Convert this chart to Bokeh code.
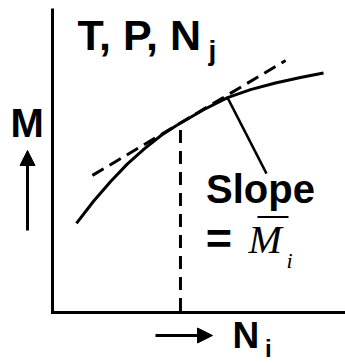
from bokeh.plotting import figure
from bokeh.models import Range1d, Arrow, NormalHead
from bokeh.core.properties import value
from bokeh.embed import file_html
from bokeh.resources import INLINE

# ---- data (diagram values) ----
axis_n = [0.0, 0.0, 10.3]
axis_m = [10.0, 0.0, 0.0]
curve_n = [0.84, 1.44, 2.04, 2.63, 3.23, 3.82, 4.42, 5.30, 6.14, 6.95, 7.82, 8.70, 9.51]
curve_m = [2.93, 3.66, 4.31, 4.89, 5.39, 5.83, 6.19, 6.67, 7.07, 7.33, 7.55, 7.73, 7.88]
tangent_n = [1.40, 8.18]
tangent_m = [4.51, 8.29]
point_n = [4.49, 4.49]
point_m = [0.05, 6.19]
leader_n = [6.14, 7.51]
leader_m = [7.07, 4.57]
bar_n = [7.19, 8.28]
bar_m = [3.14, 3.14]

PX_PER_M = 30.4  # vertical data units -> pixels (363 px over the y range)

p = figure(width=345, height=363, output_backend="svg", toolbar_location=None,
           x_range=Range1d(-1.8246, 10.2807), y_range=Range1d(-1.6776, 10.263),
           min_border=0, background_fill_color="white", border_fill_color="white")
p.outline_line_color = None
p.grid.visible = False
p.axis.visible = False

p.line(axis_n, axis_m, line_width=3, line_color="black", line_join="miter")
p.line(curve_n, curve_m, line_width=3, line_color="black")
p.line(tangent_n, tangent_m, line_width=3, line_color="black", line_dash="13 7")
p.line(point_n, point_m, line_width=3, line_color="black", line_dash="13 8")
p.line(leader_n, leader_m, line_width=2.5, line_color="black")
p.line(bar_n, bar_m, line_width=2, line_color="black")

sans = "Liberation Sans"
serif = "Liberation Serif"

def lab(x, y, t, size, font=sans, style="bold"):
    # compensate the renderer's baseline placement (text drawn ~0.36 em low)
    y_adj = y + 0.36 * size / PX_PER_M
    p.text(x=[x], y=[y_adj], text=[t], text_font=value(font), text_font_size=f"{size}px",
           text_font_style=style, text_baseline="alphabetic",
           text_align="left", text_color="black")

lab(0.877, 8.62, "T, P, N", 43)
lab(5.474, 8.29, "j", 28)
lab(5.386, 3.586, "Slope", 40)
lab(5.38, 1.90, "=", 45)
lab(6.877, 1.941, "M", 40, serif, "italic")
lab(8.211, 1.447, "i", 22, serif, "italic")
lab(-1.474, 5.757, "M", 40)
lab(6.316, -1.184, "N", 37)
lab(7.46, -1.48, "i", 24)

p.add_layout(Arrow(x_start=-0.877, y_start=2.697, x_end=-0.877, y_end=5.329,
                   line_width=3, line_color="black",
                   end=NormalHead(size=15, fill_color="black", line_color="black")))
p.add_layout(Arrow(x_start=3.614, y_start=-0.757, x_end=5.614, y_end=-0.757,
                   line_width=3, line_color="black",
                   end=NormalHead(size=15, fill_color="black", line_color="black")))

open("out.html", "w").write(file_html(p, INLINE))
